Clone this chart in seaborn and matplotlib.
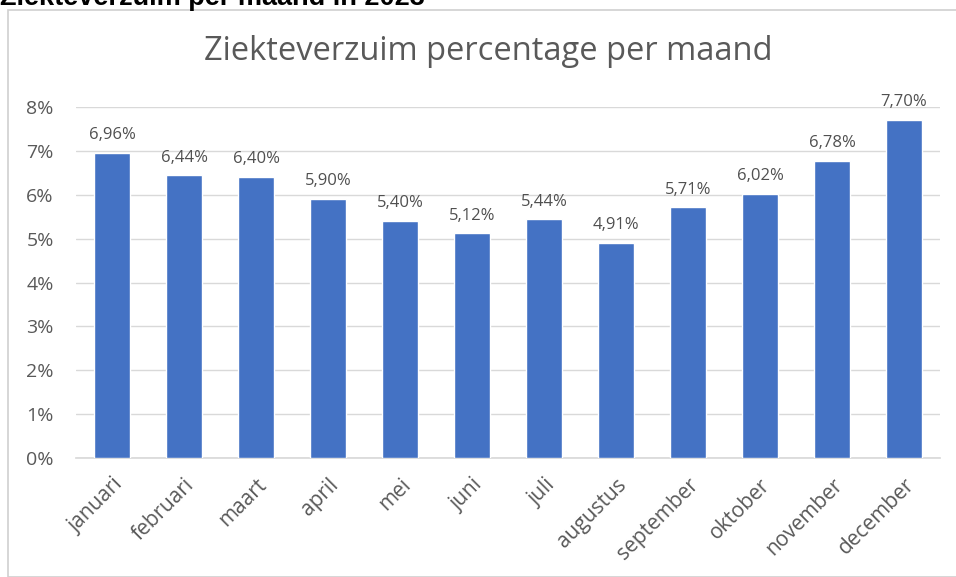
import matplotlib
matplotlib.use("Agg")
import matplotlib.pyplot as plt
import seaborn as sns
import pandas as pd
from matplotlib.patches import Rectangle

months = ["januari", "februari", "maart", "april", "mei", "juni", "juli",
          "augustus", "september", "oktober", "november", "december"]
values = [6.96, 6.44, 6.40, 5.90, 5.40, 5.12, 5.44, 4.91, 5.71, 6.02, 6.78, 7.70]
yticks = [0, 1, 2, 3, 4, 5, 6, 7, 8]

sns.set_theme(style="white")
plt.rcParams['font.family'] = ['Open Sans', 'DejaVu Sans']

df = pd.DataFrame({"maand": months, "pct": values})

W, H = 956, 577
fig = plt.figure(figsize=(W / 100, H / 100), dpi=100)
fig.patch.set_facecolor("white")

# outer chart frame
fig.patches.append(Rectangle((8 / W, 0), 1.0, 1 - 10 / H, transform=fig.transFigure,
                             fill=False, edgecolor="#d0d0d0", linewidth=1.2, zorder=0))

# heading at top (partly outside the picture, as in the source)
fig.text(0 / W, 1 - 5 / H, "Ziekteverzuim per maand in 2023", family="Liberation Sans",
         fontweight="bold", fontsize=19.5, color="black", ha="left", va="baseline")

ax = fig.add_axes([76 / W, 1 - 458 / H, (940 - 76) / W, (458 - 107) / H])
sns.barplot(data=df, x="maand", y="pct", color="#4472C4", width=0.5,
            saturation=1, ax=ax, zorder=3)

ax.set_ylim(0, 8)
ax.set_xlim(-0.5, len(months) - 0.5)
ax.set_yticks(yticks)
ax.set_yticklabels([f"{t}%" for t in yticks], color="#595959", fontsize=14)
ax.yaxis.grid(True, color="#d9d9d9", linewidth=1, zorder=0)
ax.set_axisbelow(True)
for s in ["top", "right", "left"]:
    ax.spines[s].set_visible(False)
ax.spines["bottom"].set_color("#d9d9d9")
ax.tick_params(axis="y", length=0, pad=16)
ax.tick_params(axis="x", length=0, pad=12)
ax.set_xticks(range(len(months)))
ax.set_xticklabels(months, rotation=45, ha="right", rotation_mode="anchor",
                   color="#595959", fontsize=15)
ax.set_xlabel("")
ax.set_ylabel("")

for i, v in enumerate(values):
    ax.annotate(f"{v:.2f}%".replace(".", ","), (i, v), xytext=(0, 7),
                textcoords="offset points", ha="center", va="bottom",
                color="#505050", fontsize=12)

fig.text(488 / W, 1 - 52 / H, "Ziekteverzuim percentage per maand", ha="center",
         va="center", color="#595959", fontsize=23.5)

fig.savefig("out.png", dpi=100)
